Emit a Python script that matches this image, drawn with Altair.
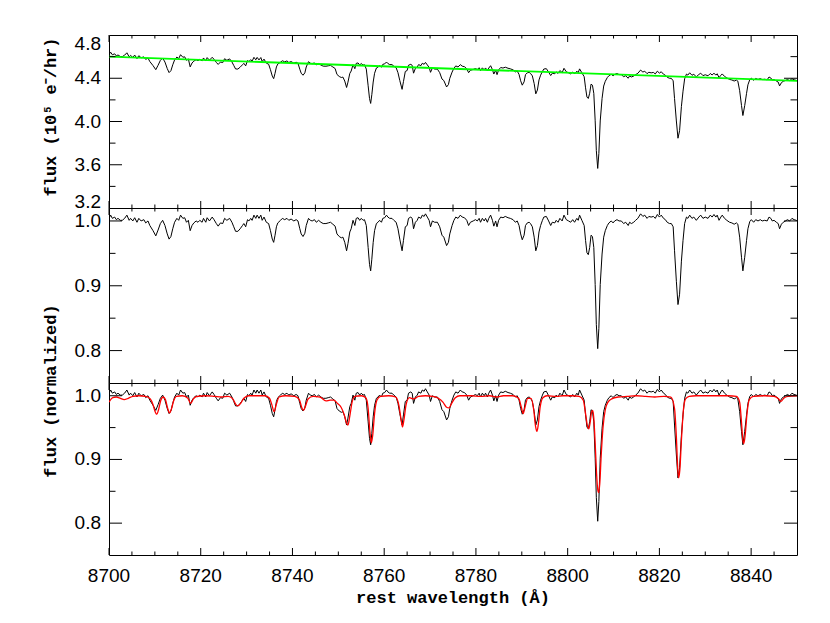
import altair as alt
import pandas as pd

# ---------------- data ----------------
wavelength = [
    8700.0, 8700.36, 8700.73, 8701.24, 8701.6, 8701.96, 8702.47, 8702.9, 8703.4, 8703.9,
    8704.4, 8704.7, 8705.2, 8705.6, 8706.1, 8706.5, 8707.0, 8707.6, 8708.0, 8708.5,
    8708.9, 8709.6, 8710.2, 8710.7, 8711.2, 8711.7, 8712.2, 8712.7, 8713.1, 8713.5,
    8713.9, 8714.3, 8714.8, 8715.2, 8715.6, 8716.1, 8716.5, 8716.9, 8717.3, 8717.7,
    8718.1, 8718.5, 8719.0, 8719.4, 8719.8, 8720.3, 8720.6, 8721.1, 8721.4, 8721.9,
    8722.5, 8722.9, 8723.4, 8723.8, 8724.3, 8724.8, 8725.2, 8725.7, 8726.3, 8726.8,
    8727.2, 8727.6, 8728.1, 8728.6, 8729.1, 8729.4, 8729.8, 8730.2, 8730.5, 8730.9,
    8731.2, 8731.6, 8732.0, 8732.3, 8732.7, 8733.1, 8733.4, 8733.8, 8734.3, 8734.8,
    8735.2, 8735.6, 8735.9, 8736.2, 8736.5, 8736.8, 8737.4, 8737.8, 8738.3, 8738.8,
    8739.2, 8739.7, 8740.3, 8740.8, 8741.2, 8741.6, 8741.9, 8742.3, 8742.7, 8743.0,
    8743.5, 8743.9, 8744.3, 8744.8, 8745.2, 8745.7, 8746.2, 8746.7, 8747.3, 8747.8,
    8748.3, 8748.8, 8749.3, 8749.7, 8750.2, 8750.65, 8751.0, 8751.4, 8751.8, 8752.1,
    8752.5, 8752.8, 8753.2, 8753.6, 8753.9, 8754.3, 8754.65, 8755.0, 8755.4, 8755.7,
    8756.1, 8756.5, 8756.8, 8757.05, 8757.3, 8757.6, 8757.9, 8758.3, 8758.65, 8759.0,
    8759.4, 8759.7, 8760.1, 8760.5, 8760.8, 8761.2, 8761.7, 8762.1, 8762.6, 8763.0,
    8763.4, 8763.9, 8764.2, 8764.6, 8765.0, 8765.3, 8765.8, 8766.1, 8766.4, 8766.8,
    8767.2, 8767.5, 8768.0, 8768.3, 8768.7, 8769.0, 8769.4, 8769.8, 8770.1, 8770.5,
    8771.0, 8771.6, 8772.1, 8772.6, 8773.0, 8773.6, 8774.0, 8774.3, 8774.8, 8775.2,
    8775.6, 8776.1, 8776.6, 8777.0, 8777.5, 8778.0, 8778.4, 8778.8, 8779.4, 8779.9,
    8780.3, 8780.7, 8781.0, 8781.4, 8781.8, 8782.1, 8782.5, 8782.8, 8783.2, 8783.6,
    8783.9, 8784.3, 8784.6, 8784.95, 8785.4, 8785.9, 8786.4, 8787.0, 8787.5, 8788.1,
    8788.6, 8789.0, 8789.4, 8789.75, 8790.1, 8790.5, 8790.8, 8791.2, 8791.6, 8791.9,
    8792.3, 8792.7, 8793.05, 8793.4, 8793.75, 8794.1, 8794.5, 8794.8, 8795.35, 8795.85,
    8796.3, 8796.65, 8797.2, 8797.5, 8797.9, 8798.3, 8798.8, 8799.2, 8799.7, 8800.2,
    8800.65, 8801.1, 8801.5, 8802.0, 8802.3, 8802.6, 8803.1, 8803.6, 8803.9, 8804.2,
    8804.5, 8804.8, 8805.1, 8805.4, 8805.7, 8806.0, 8806.25, 8806.55, 8806.8, 8807.1,
    8807.5, 8807.85, 8808.2, 8808.65, 8809.0, 8809.5, 8809.9, 8810.25, 8810.75, 8811.2,
    8811.7, 8812.2, 8812.65, 8813.2, 8813.5, 8813.9, 8814.4, 8814.8, 8815.3, 8815.9,
    8816.4, 8816.8, 8817.3, 8817.7, 8818.2, 8818.7, 8819.1, 8819.55, 8820.0, 8820.4,
    8820.9, 8821.3, 8821.7, 8822.2, 8822.6, 8823.0, 8823.3, 8823.7, 8824.05, 8824.4,
    8824.8, 8825.15, 8825.5, 8825.9, 8826.2, 8826.6, 8827.1, 8827.5, 8828.05, 8828.6,
    8829.0, 8829.5, 8830.0, 8830.6, 8831.1, 8831.5, 8831.9, 8832.3, 8832.6, 8833.0,
    8833.4, 8833.7, 8834.2, 8834.7, 8835.3, 8835.8, 8836.3, 8836.8, 8837.1, 8837.5,
    8837.9, 8838.2, 8838.6, 8839.0, 8839.3, 8839.7, 8840.05, 8840.55, 8841.0, 8841.5,
    8842.0, 8842.4, 8842.95, 8843.5, 8843.9, 8844.3, 8844.6, 8845.0, 8845.5, 8845.9,
    8846.2, 8846.6, 8847.0, 8847.5, 8847.9, 8848.4, 8848.9, 8849.35, 8849.85, 8850.0,
]
norm_flux = [
    1.004, 1.009, 1.004, 1.006, 1.002, 1.004, 1.001, 1.001, 1.004, 1.009,
    1.001, 1.004, 1.000, 1.005, 0.998, 1.004, 1.000, 1.002, 0.997, 1.000,
    0.993, 0.985, 0.977, 0.986, 0.996, 1.001, 0.993, 0.980, 0.972, 0.976,
    0.988, 0.998, 1.004, 1.001, 1.009, 1.004, 1.005, 0.998, 1.001, 0.985,
    0.993, 0.997, 1.000, 0.998, 1.001, 0.998, 1.004, 0.998, 1.005, 1.000,
    1.006, 1.002, 0.996, 0.992, 0.997, 0.996, 1.004, 1.001, 1.004, 0.998,
    0.991, 0.984, 0.984, 0.988, 0.993, 0.996, 0.991, 1.002, 1.000, 1.004,
    1.001, 1.009, 1.004, 1.009, 1.004, 1.009, 1.001, 1.006, 0.998, 0.996,
    0.985, 0.972, 0.967, 0.978, 0.991, 0.997, 1.001, 1.004, 1.002, 1.004,
    1.001, 1.003, 1.000, 1.002, 1.000, 0.988, 0.980, 0.976, 0.981, 0.993,
    1.004, 1.001, 1.000, 1.002, 0.998, 1.001, 0.998, 0.996, 0.996, 0.997,
    0.998, 0.995, 0.992, 0.980, 0.976, 0.974, 0.975, 0.967, 0.954, 0.965,
    0.983, 0.988, 1.001, 0.993, 1.004, 1.005, 1.001, 1.004, 1.001, 1.002,
    0.993, 0.959, 0.933, 0.923, 0.941, 0.967, 0.985, 0.996, 0.998, 1.001,
    0.998, 1.004, 1.005, 1.009, 1.006, 1.004, 1.004, 1.001, 0.998, 0.988,
    0.972, 0.954, 0.970, 0.991, 0.993, 1.004, 1.006, 1.004, 0.988, 0.998,
    1.001, 1.006, 1.004, 1.009, 1.007, 1.011, 1.006, 1.001, 0.991, 1.000,
    0.998, 0.998, 0.991, 0.978, 0.975, 0.962, 0.967, 0.980, 0.993, 1.001,
    1.006, 1.004, 1.009, 1.006, 1.005, 1.001, 0.993, 0.998, 1.000, 1.002,
    1.000, 1.004, 0.998, 1.004, 1.000, 1.004, 0.998, 1.004, 1.009, 1.001,
    0.992, 1.000, 0.991, 1.001, 1.006, 1.005, 1.007, 1.005, 1.004, 1.002,
    0.998, 1.000, 0.993, 0.980, 0.971, 0.978, 0.993, 0.997, 0.998, 0.996,
    0.991, 0.975, 0.954, 0.962, 0.983, 0.993, 1.001, 1.006, 1.007, 1.000,
    0.993, 0.998, 0.997, 1.001, 0.998, 1.004, 1.000, 1.009, 1.002, 1.000,
    0.998, 1.002, 0.998, 1.004, 1.001, 1.009, 1.001, 0.993, 0.970, 0.951,
    0.948, 0.959, 0.978, 0.976, 0.959, 0.902, 0.840, 0.803, 0.834, 0.902,
    0.949, 0.975, 0.985, 0.993, 0.997, 1.000, 0.997, 1.000, 1.002, 1.000,
    1.000, 0.996, 0.998, 0.993, 0.998, 0.996, 0.998, 1.001, 1.004, 1.011,
    1.007, 1.009, 1.004, 1.007, 1.006, 1.007, 1.004, 1.010, 1.006, 1.009,
    1.004, 1.002, 0.998, 0.996, 0.996, 0.991, 0.954, 0.907, 0.871, 0.887,
    0.938, 0.970, 0.996, 1.006, 1.004, 1.009, 1.004, 1.006, 1.001, 1.006,
    1.009, 1.004, 1.006, 1.004, 1.009, 1.006, 1.010, 1.006, 1.009, 1.001,
    1.006, 1.009, 1.004, 1.001, 0.998, 0.997, 0.995, 0.997, 0.995, 0.975,
    0.944, 0.923, 0.944, 0.970, 0.988, 0.999, 1.002, 0.998, 1.002, 1.000,
    1.002, 1.000, 1.001, 1.000, 1.006, 1.004, 1.000, 1.001, 0.998, 0.996,
    0.988, 0.995, 0.998, 1.000, 1.002, 1.000, 1.004, 1.002, 1.001, 1.000,
]
model_wavelength = [
    8700.0, 8700.8, 8701.6, 8702.5, 8703.3, 8704.2, 8705.2, 8706.5, 8708.0, 8709.0,
    8709.6, 8710.0, 8710.4, 8710.8, 8711.3, 8711.8, 8712.3, 8712.8, 8713.2, 8713.6,
    8714.1, 8714.7, 8716.0, 8717.2, 8717.8, 8718.4, 8719.2, 8721.0, 8723.0, 8724.5,
    8726.0, 8727.0, 8727.6, 8728.1, 8728.7, 8729.4, 8730.5, 8732.0, 8734.0, 8735.0,
    8735.5, 8736.0, 8736.5, 8737.1, 8738.5, 8740.5, 8741.5, 8742.0, 8742.4, 8742.8,
    8743.4, 8744.5, 8746.0, 8747.3, 8748.2, 8749.0, 8749.8, 8750.6, 8751.3, 8751.8,
    8752.1, 8752.5, 8753.0, 8753.6, 8755.0, 8756.0, 8756.5, 8756.9, 8757.2, 8757.5,
    8757.9, 8758.4, 8759.2, 8761.0, 8762.5, 8763.2, 8763.7, 8764.0, 8764.3, 8764.8,
    8765.5, 8766.4, 8767.5, 8769.0, 8770.5, 8771.8, 8772.8, 8773.6, 8774.1, 8774.7,
    8775.5, 8776.5, 8779.0, 8781.0, 8783.0, 8784.5, 8786.0, 8788.0, 8789.3, 8789.9,
    8790.3, 8790.7, 8791.3, 8792.0, 8792.6, 8793.0, 8793.3, 8793.6, 8794.0, 8794.6,
    8795.5, 8797.5, 8799.0, 8801.0, 8802.5, 8803.4, 8803.9, 8804.3, 8804.6, 8804.9,
    8805.2, 8805.45, 8805.7, 8806.0, 8806.3, 8806.55, 8806.75, 8807.0, 8807.3, 8807.7,
    8808.2, 8808.8, 8809.6, 8811.0, 8813.0, 8815.0, 8817.0, 8819.0, 8821.0, 8822.5,
    8823.3, 8823.7, 8824.0, 8824.2, 8824.45, 8824.8, 8825.2, 8825.7, 8826.5, 8828.0,
    8832.0, 8835.0, 8836.8, 8837.5, 8837.9, 8838.2, 8838.4, 8838.7, 8839.1, 8839.6,
    8840.5, 8843.0, 8845.0, 8846.0, 8846.5, 8847.1, 8848.0, 8850.0,
]
model_flux = [
    0.990, 0.997, 0.998, 0.996, 0.994, 0.996, 0.999, 1.000, 0.999, 0.995,
    0.986, 0.976, 0.971, 0.978, 0.993, 0.998, 0.994, 0.980, 0.973, 0.979,
    0.992, 0.999, 1.000, 0.996, 0.988, 0.995, 0.999, 1.000, 0.999, 0.998,
    0.999, 0.995, 0.987, 0.984, 0.988, 0.996, 1.000, 1.000, 1.000, 0.996,
    0.986, 0.975, 0.987, 0.998, 1.000, 0.999, 0.994, 0.982, 0.977, 0.983,
    0.995, 0.999, 0.998, 0.992, 0.993, 0.993, 0.988, 0.982, 0.970, 0.957,
    0.954, 0.968, 0.990, 0.999, 1.000, 0.997, 0.980, 0.942, 0.926, 0.938,
    0.972, 0.993, 0.999, 1.000, 0.998, 0.985, 0.962, 0.951, 0.962, 0.987,
    0.997, 0.995, 0.999, 1.000, 0.999, 0.996, 0.990, 0.982, 0.981, 0.988,
    0.997, 1.000, 1.000, 0.999, 1.000, 0.998, 1.000, 1.000, 0.996, 0.982,
    0.972, 0.982, 0.996, 0.996, 0.978, 0.952, 0.944, 0.955, 0.982, 0.997,
    1.000, 0.999, 1.000, 1.000, 0.999, 0.993, 0.972, 0.953, 0.948, 0.958,
    0.974, 0.977, 0.965, 0.925, 0.878, 0.853, 0.848, 0.862, 0.905, 0.950,
    0.978, 0.990, 0.995, 0.998, 0.999, 1.000, 0.999, 0.998, 0.999, 0.998,
    0.980, 0.935, 0.885, 0.871, 0.883, 0.930, 0.975, 0.995, 0.999, 1.000,
    1.000, 1.000, 0.999, 0.990, 0.958, 0.930, 0.925, 0.938, 0.972, 0.994,
    0.999, 1.000, 0.999, 0.995, 0.991, 0.996, 0.999, 1.000,
]
continuum_wavelength = [8700, 8850]
continuum_flux = [4.600, 4.376]

x_major = [8700, 8720, 8740, 8760, 8780, 8800, 8820, 8840]
x_minor = [8705, 8710, 8715, 8725, 8730, 8735, 8745, 8750, 8755, 8765, 8770, 8775,
           8785, 8790, 8795, 8805, 8810, 8815, 8825, 8830, 8835, 8845]
top_labels_mid = [3.6, 4.0, 4.4]
top_label_high = [4.8]
top_label_low = [3.2]
top_major = [4.4, 4.0, 3.6]
top_minor = [4.6, 4.2, 3.8, 3.4]
norm_labels = [0.8, 0.9, 1.0]
norm_major = [1.0, 0.9, 0.8]
norm_minor = [0.95, 0.85]
title_top = ["flux (10⁵ e⁻/hr)"]
title_norm = ["flux (normalized)"]
title_x = ["rest wavelength (Å)"]

# ---------------- tables ----------------
spec = pd.DataFrame({"wl": wavelength, "norm": norm_flux})
slope = (continuum_flux[1] - continuum_flux[0]) / (continuum_wavelength[1] - continuum_wavelength[0])
spec["raw"] = spec["norm"] * (continuum_flux[0] + slope * (spec["wl"] - continuum_wavelength[0]))
model = pd.DataFrame({"wl": model_wavelength, "model": model_flux})
cont = pd.DataFrame({"wl": continuum_wavelength, "flux": continuum_flux})

W = 688
H_TOP, H_MID, H_BOT = 173, 175, 172

xs = alt.Scale(domain=[8700, 8850], nice=False, zero=False)
ys_top = alt.Scale(domain=[3.2, 4.8], nice=False, zero=False)
ys_norm = alt.Scale(domain=[0.75, 1.02], nice=False, zero=False)

LFONT = "Liberation Sans"
LSIZE = 19
TFONT = "Liberation Mono"
TSIZE = 17
TITLE_X = -58


def tick_layers(H, yscale, ymaj, ymin):
    out = []
    for vals, L in ((x_major, 7), (x_minor, 3.5)):
        d = pd.DataFrame({"t": vals})
        for y0, y1 in ((H, H - L), (0, L)):
            out.append(alt.Chart(d).mark_rule(color="black", strokeWidth=1).encode(
                x=alt.X("t:Q", scale=xs, axis=None), y=alt.value(y0), y2=alt.value(y1)))
    for vals, L in ((ymaj, 13), (ymin, 6.5)):
        d = pd.DataFrame({"v": vals})
        for x0, x1 in ((0, L), (W, W - L)):
            out.append(alt.Chart(d).mark_rule(color="black", strokeWidth=1).encode(
                y=alt.Y("v:Q", scale=yscale, axis=None), x=alt.value(x0), x2=alt.value(x1)))
    return out


def ylabels(vals, yscale, dy=0):
    d = pd.DataFrame({"v": vals})
    return alt.Chart(d).mark_text(font=LFONT, fontSize=LSIZE, color="black", align="right",
                                  baseline="middle", dy=dy).encode(
        y=alt.Y("v:Q", scale=yscale, axis=None), x=alt.value(-8),
        text=alt.Text("v:Q", format=".1f"))


def ytitle(txt, ypix):
    d = pd.DataFrame({"s": txt})
    return alt.Chart(d).mark_text(font=TFONT, fontSize=TSIZE, fontWeight="bold", color="black",
                                  angle=270, align="center", baseline="middle").encode(
        x=alt.value(TITLE_X), y=alt.value(ypix), text="s:N")


# top panel
top_black = alt.Chart(spec).mark_line(color="black", strokeWidth=1, clip=True).encode(
    x=alt.X("wl:Q", scale=xs, axis=None), y=alt.Y("raw:Q", scale=ys_top, axis=None))
top_green = alt.Chart(cont).mark_line(color="#00ff00", strokeWidth=1.8, clip=True).encode(
    x=alt.X("wl:Q", scale=xs, axis=None), y=alt.Y("flux:Q", scale=ys_top, axis=None))
top = alt.layer(
    top_black, top_green,
    *tick_layers(H_TOP, ys_top, top_major, top_minor),
    ylabels(top_labels_mid, ys_top), ylabels(top_label_high, ys_top, dy=9),
    ylabels(top_label_low, ys_top, dy=-6),
    ytitle(title_top, 82),
).properties(width=W, height=H_TOP)

# middle panel
mid_black = alt.Chart(spec).mark_line(color="black", strokeWidth=1, clip=True).encode(
    x=alt.X("wl:Q", scale=xs, axis=None), y=alt.Y("norm:Q", scale=ys_norm, axis=None))
mid = alt.layer(
    mid_black,
    *tick_layers(H_MID, ys_norm, norm_major, norm_minor),
    ylabels(norm_labels, ys_norm),
    ytitle(title_norm, 183),
).properties(width=W, height=H_MID)

# bottom panel
bot_black = alt.Chart(spec).mark_line(color="black", strokeWidth=1, clip=True).encode(
    x=alt.X("wl:Q", scale=xs, axis=None), y=alt.Y("norm:Q", scale=ys_norm, axis=None))
bot_red = alt.Chart(model).mark_line(color="#ff0000", strokeWidth=1.3, clip=True,
                                     interpolate="monotone").encode(
    x=alt.X("wl:Q", scale=xs, axis=None), y=alt.Y("model:Q", scale=ys_norm, axis=None))
xlab = alt.Chart(pd.DataFrame({"t": x_major})).mark_text(
    font=LFONT, fontSize=LSIZE, color="black", align="center", baseline="alphabetic").encode(
    x=alt.X("t:Q", scale=xs, axis=None), y=alt.value(H_BOT + 27),
    text=alt.Text("t:Q", format="d"))
xtitle = alt.Chart(pd.DataFrame({"s": title_x})).mark_text(
    font=TFONT, fontSize=TSIZE, fontWeight="bold", color="black", align="center",
    baseline="alphabetic").encode(
    x=alt.value(W / 2), y=alt.value(H_BOT + 48), text="s:N")
bot = alt.layer(
    bot_black, bot_red,
    *tick_layers(H_BOT, ys_norm, norm_major, norm_minor),
    ylabels(norm_labels, ys_norm), xlab, xtitle,
).properties(width=W, height=H_BOT)

chart = alt.vconcat(top, mid, bot, spacing=0, bounds="flush").properties(
    padding={"left": 33, "top": 26, "right": 5, "bottom": 5},
    background="white",
).configure_view(stroke="black", strokeWidth=1)

chart.save("out.html", embed_options={"renderer": "svg", "actions": False})
